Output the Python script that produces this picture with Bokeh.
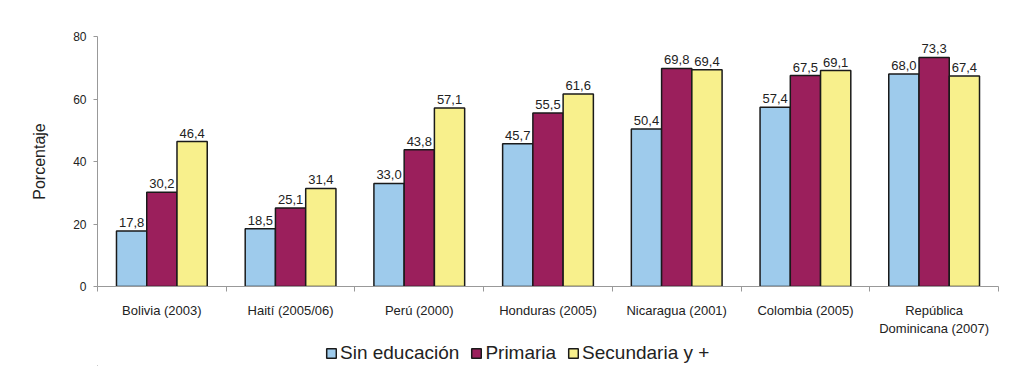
from bokeh.plotting import figure
from bokeh.models import ColumnDataSource, FixedTicker, Legend, LegendItem, Range1d
from bokeh.layouts import column
from bokeh.embed import file_html
from bokeh.resources import INLINE
from bokeh.core.properties import value

categories = ["Bolivia (2003)", "Haití (2005/06)", "Perú (2000)", "Honduras (2005)",
              "Nicaragua (2001)", "Colombia (2005)", "República\nDominicana (2007)"]
sin_educacion = [17.8, 18.5, 33.0, 45.7, 50.4, 57.4, 68.0]
primaria = [30.2, 25.1, 43.8, 55.5, 69.8, 67.5, 73.3]
secundaria = [46.4, 31.4, 57.1, 61.6, 69.4, 69.1, 67.4]
series_names = ["Sin educación", "Primaria", "Secundaria y +"]
y_ticks = [0, 20, 40, 60, 80]

colors = ["#9ecbec", "#9b1f5c", "#f8f08c"]
FONT = "Liberation Sans"

p = figure(width=1003, height=340, output_backend="svg", toolbar_location=None,
           x_range=Range1d(0, len(categories)), y_range=Range1d(0, 80),
           min_border_left=97, min_border_right=5, min_border_top=36, min_border_bottom=54)
p.outline_line_color = None
p.xgrid.visible = False
p.ygrid.visible = False
p.background_fill_color = "white"
p.border_fill_color = "white"

w = 0.235
offsets = [-w, 0, w]
for k, vals in enumerate([sin_educacion, primaria, secundaria]):
    xs = [i + 0.5 + offsets[k] for i in range(len(categories))]
    src = ColumnDataSource(dict(x=xs, top=vals,
                                lab=[("%.1f" % v).replace(".", ",") for v in vals]))
    p.vbar(x="x", top="top", width=w, bottom=0, source=src, fill_color=colors[k],
           line_color="#1a1a1a", line_width=1.5)
    p.text(x="x", y="top", text="lab", source=src, text_align="center",
           text_baseline="bottom", y_offset=-4, text_font=value(FONT),
           text_font_size="13px", text_color="#222222")

# x axis
xa = p.xaxis[0]
xa.ticker = FixedTicker(ticks=[i + 0.5 for i in range(len(categories))],
                        minor_ticks=list(range(len(categories) + 1)))
xa.major_label_overrides = {i + 0.5: c for i, c in enumerate(categories)}
xa.major_tick_out = 0
xa.major_tick_in = 0
xa.minor_tick_out = 5
xa.minor_tick_in = 0
xa.axis_line_color = "#999999"
xa.minor_tick_line_color = "#999999"
xa.major_label_standoff = 11
xa.major_label_text_font = FONT
xa.major_label_text_font_size = "13px"
xa.major_label_text_color = "#222222"

# y axis
ya = p.yaxis[0]
ya.ticker = FixedTicker(ticks=y_ticks)
ya.minor_tick_line_color = None
ya.major_tick_out = 4
ya.major_tick_in = 0
ya.axis_line_color = "#999999"
ya.major_tick_line_color = "#999999"
ya.major_label_standoff = 7
ya.major_label_text_font = FONT
ya.major_label_text_font_size = "12px"
ya.major_label_text_color = "#222222"
ya.axis_label = "Porcentaje"
ya.axis_label_text_font = FONT
ya.axis_label_text_font_size = "16px"
ya.axis_label_text_font_style = "normal"
ya.axis_label_text_color = "#222222"
ya.axis_label_standoff = 22

# legend strip
p2 = figure(width=1003, height=26, output_backend="svg", toolbar_location=None,
            x_range=Range1d(0, 1), y_range=Range1d(0, 1),
            x_axis_location=None, y_axis_location=None,
            min_border_left=0, min_border_right=0, min_border_top=0, min_border_bottom=0)
p2.outline_line_color = None
p2.xgrid.visible = False
p2.ygrid.visible = False
legend_renderers = []
for k in range(3):
    r = p2.vbar(x=[-0.5], bottom=[-3], top=[-2], width=0.1, fill_color=colors[k],
                line_color="#1a1a1a", line_width=1.5)
    legend_renderers.append(r)

legend = Legend(items=[LegendItem(label=series_names[k], renderers=[legend_renderers[k]])
                       for k in range(3)],
                orientation="horizontal", location=(228, 2),
                padding=0, margin=0, spacing=11, label_standoff=3,
                glyph_width=12, glyph_height=12,
                label_text_font=FONT, label_text_font_size="19px",
                label_text_color="#222222",
                border_line_color=None, background_fill_alpha=0)
p2.add_layout(legend, "center")

layout = column(p, p2)
open("out.html", "w").write(file_html(layout, INLINE))
